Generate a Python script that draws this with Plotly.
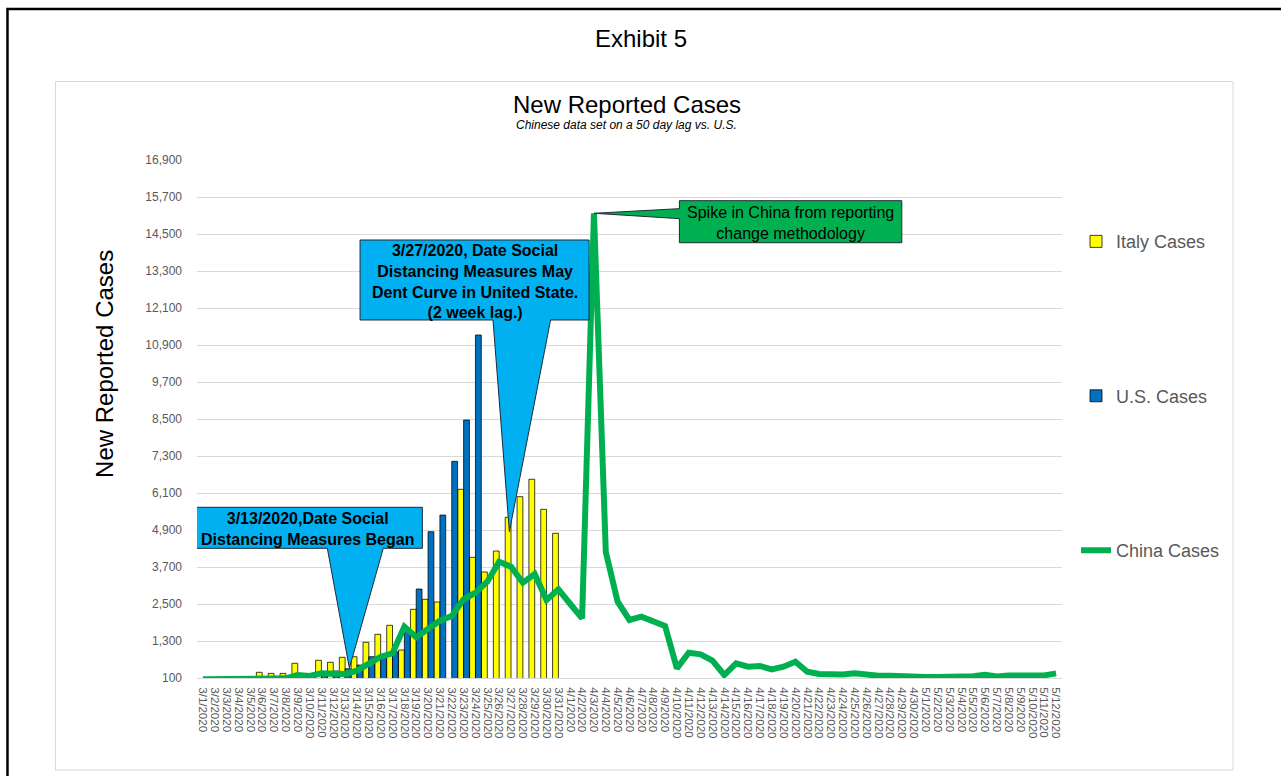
import pandas as pd
import plotly.graph_objects as go

# Daily dates on the category axis (3/1/2020 .. 5/12/2020)
dates = pd.date_range("2020-03-01", "2020-05-12", freq="D")
date_labels = [f"{d.month}/{d.day}/{d.year}" for d in dates]

# New reported cases per day
italy_cases = [None, None, None, None, None, 285, 250, 250, 577, None,
               674, 609, 771, 790, 1258, 1517, 1809, 1008, 2328, 2652,
               2565, None, 6220, 4014, 3538, 4219, 5312, 5980, 6545, 5571,
               4793] + [None] * 42

us_cases = [None, None, None, None, None, 60, 130, 90, 90, 230,
            250, 327, 400, 520, 790, 846, 950, 1700, 2986, 4845,
            5384, 7128, 8467, 11224] + [None] * 49

# Chinese series shifted 50 days to line up with the U.S. timeline
china_cases = [60, 60, 70, 70, 60, 70, 80, 90, 200, 165,
               250, 250, 230, 337, 577, 790, 900, 1764, 1420, 1711,
               1958, 2111, 2652, 2866, 3223, 3872, 3710, 3191, 3473, 2630,
               2977, 2500, 2036, 15171, 4186, 2575, 1981, 2088, 1958, 1786,
               413, 920, 869, 661, 197, 577, 467, 490, 382, 467,
               629, 305, 230, 207, 215, 250, 207, 175, 175, 150,
               140, 135, 130, 135, 140, 160, 207, 150, 185, 197,
               185, 185, 250]

y_ticks = list(range(100, 16901, 1200))

ITALY_YELLOW = "#FFFF00"
US_BLUE = "#0070C0"
CHINA_GREEN = "#00B050"
CALLOUT_BLUE = "#00B0F0"
GRID = "#D9D9D9"
TEXT_GRAY = "#595959"
FONT = "Liberation Sans, Arial, sans-serif"

fig = go.Figure()
fig.add_trace(go.Bar(
    x=date_labels, y=italy_cases, name="Italy Cases",
    marker=dict(color=ITALY_YELLOW, line=dict(color="#000000", width=0.75)),
    legendgroup="italy",
))
fig.add_trace(go.Bar(
    x=date_labels, y=us_cases, name="U.S. Cases",
    marker=dict(color=US_BLUE, line=dict(color="#000000", width=0.75)),
    legendgroup="us",
))
fig.add_trace(go.Scatter(
    x=date_labels, y=china_cases, name="China Cases", mode="lines",
    line=dict(color=CHINA_GREEN, width=6),
    legendgroup="china",
))

# ---- callouts (category axis: numeric positions are category indices) ----
def idx(label):
    return date_labels.index(label)

shapes = []
annotations = []

# 3/13 callout
tip1 = (idx("3/13/2020") + 0.36, 420)
x0, x1, yt, yb = -0.81, 18.52, 5636, 4306
bl, br = 10.50, 15.22
shapes.append(dict(
    type="path", xref="x", yref="y", layer="above",
    path=(f"M{x0},{yt} L{x1},{yt} L{x1},{yb} L{br},{yb} "
          f"L{tip1[0]},{tip1[1]} L{bl},{yb} L{x0},{yb} Z"),
    fillcolor=CALLOUT_BLUE, line=dict(color="#1F2A36", width=1),
))
annotations.append(dict(
    x=(x0 + x1) / 2, y=4939, xref="x", yref="y", showarrow=False,
    xanchor="center", yanchor="middle",
    text="<b>3/13/2020,Date Social<br>Distancing Measures Began</b>",
    font=dict(family=FONT, size=16, color="#000000"), align="center",
))

# 3/27 callout
tip2 = (idx("3/27/2020") - 0.14, 4845)
x0, x1, yt, yb = 13.26, 32.59, 14305, 11711
bl, br = 24.48, 29.34
shapes.append(dict(
    type="path", xref="x", yref="y", layer="above",
    path=(f"M{x0},{yt} L{x1},{yt} L{x1},{yb} L{br},{yb} "
          f"L{tip2[0]},{tip2[1]} L{bl},{yb} L{x0},{yb} Z"),
    fillcolor=CALLOUT_BLUE, line=dict(color="#1F2A36", width=1),
))
annotations.append(dict(
    x=(x0 + x1) / 2, y=12953, xref="x", yref="y", showarrow=False,
    xanchor="center", yanchor="middle",
    text=("<b>3/27/2020, Date Social<br>Distancing Measures May<br>"
          "Dent Curve in United State.<br>(2 week lag.)</b>"),
    font=dict(family=FONT, size=16, color="#000000"), align="center",
))

# spike callout, pointing at the 4/3 peak of the China series
spike_i = idx("4/3/2020")
tip3 = (spike_i, china_cases[spike_i])
x0, x1, yt, yb = 40.21, 58.98, 15580, 14217
wt, wb = 15322, 14998
shapes.append(dict(
    type="path", xref="x", yref="y", layer="above",
    path=(f"M{x0},{yt} L{x1},{yt} L{x1},{yb} L{x0},{yb} L{x0},{wb} "
          f"L{tip3[0]},{tip3[1]} L{x0},{wt} Z"),
    fillcolor=CHINA_GREEN, line=dict(color="#1F2A36", width=1),
))
annotations.append(dict(
    x=(x0 + x1) / 2, y=14850, xref="x", yref="y", showarrow=False,
    xanchor="center", yanchor="middle",
    text="Spike in China from reporting<br>change methodology",
    font=dict(family=FONT, size=16, color="#000000"), align="center",
))

# ---- frames ----
# outer exhibit frame
shapes.append(dict(type="rect", xref="paper", yref="paper", layer="below",
                   x0=-0.2191, x1=1.30, y0=-0.25, y1=1.2915,
                   line=dict(color="#000000", width=2.5), fillcolor="rgba(0,0,0,0)"))
# chart area frame
shapes.append(dict(type="rect", xref="paper", yref="paper", layer="below",
                   x0=-0.1636, x1=1.1977, y0=-0.1776, y1=1.1515,
                   line=dict(color=GRID, width=1), fillcolor="rgba(0,0,0,0)"))

# ---- titles ----
title_common = dict(xref="paper", yref="paper", showarrow=False,
                    xanchor="center", yanchor="middle")
annotations += [
    dict(x=0.5133, y=1.2355, text="Exhibit 5",
         font=dict(family=FONT, size=24, color="#000000"), **title_common),
    dict(x=0.4971, y=1.1081, text="New Reported Cases",
         font=dict(family=FONT, size=24, color="#000000"), **title_common),
    dict(x=0.4971, y=1.0676, text="<i>Chinese data set on a 50 day lag vs. U.S.</i>",
         font=dict(family=FONT, size=12, color="#000000"), **title_common),
    dict(x=-0.1064, y=0.6062, text="New Reported Cases", textangle=-90,
         font=dict(family=FONT, size=24, color="#000000"), **title_common),
]

fig.update_layout(
    width=1281, height=776,
    margin=dict(l=197, r=219, t=160, b=98, pad=0),
    paper_bgcolor="#FFFFFF", plot_bgcolor="#FFFFFF",
    barmode="group", bargap=0.02, bargroupgap=0,
    font=dict(family=FONT, color=TEXT_GRAY),
    showlegend=True,
    legend=dict(
        x=1.0162, y=0.878, xanchor="left", yanchor="top",
        font=dict(family=FONT, size=18, color=TEXT_GRAY),
        tracegroupgap=128, bgcolor="rgba(0,0,0,0)",
        traceorder="grouped",
    ),
    shapes=shapes,
    annotations=annotations,
)

fig.update_xaxes(
    type="category", tickmode="linear", tick0=0, dtick=1, tickangle=90,
    tickfont=dict(family=FONT, size=11.5, color=TEXT_GRAY),
    showgrid=False, showline=True, linecolor=GRID, linewidth=1,
    ticks="", ticklabelstandoff=6, range=[-0.5, len(date_labels) - 0.5],
    fixedrange=True,
)
fig.update_yaxes(
    range=[100, 16900], tickvals=y_ticks, tickformat=",d",
    tickfont=dict(family=FONT, size=12, color=TEXT_GRAY),
    showgrid=True, gridcolor=GRID, gridwidth=1, zeroline=False,
    showline=False, ticks="", ticklabelstandoff=14, fixedrange=True,
)

fig.write_html("out.html")
